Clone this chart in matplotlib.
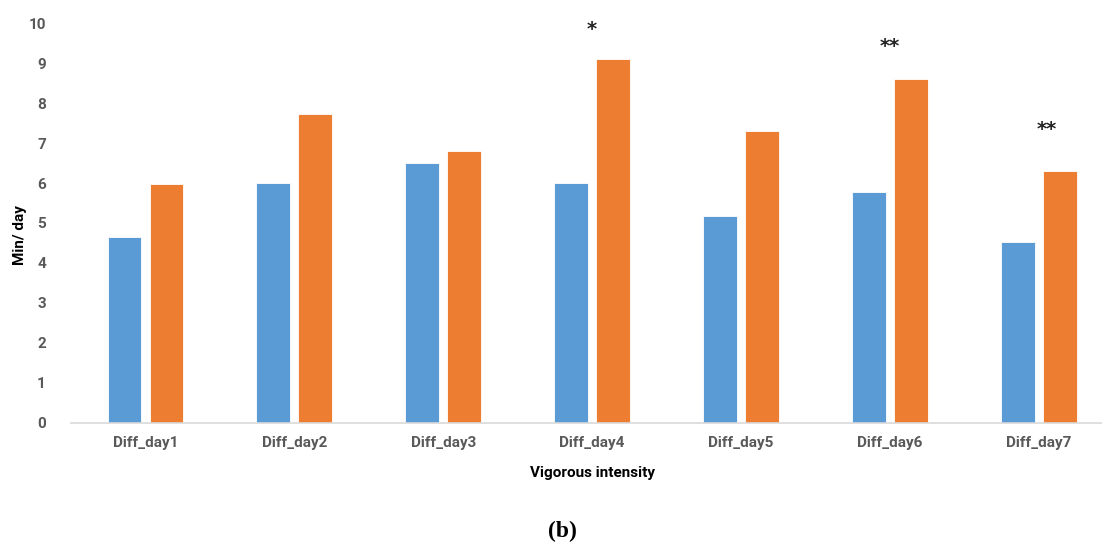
import numpy as np
import matplotlib.pyplot as plt

days = ['Diff_day1', 'Diff_day2', 'Diff_day3', 'Diff_day4', 'Diff_day5', 'Diff_day6', 'Diff_day7']
blue_vals = [4.65, 6.0, 6.51, 6.01, 5.18, 5.77, 4.52]
orange_vals = [5.98, 7.74, 6.80, 9.10, 7.30, 8.60, 6.30]

# significance marks: (category index, label, y value)
sig_x = [3, 5, 6.05]
sig_labels = ['*', '**', '**']
sig_y = [9.84, 9.42, 7.35]

blue = '#5B9BD5'
orange = '#ED7D31'

fig = plt.figure(figsize=(11.02, 5.46), dpi=100)
# axes run a little past the right edge, as in the cropped original
ax = fig.add_axes([70.8 / 1102, 123.5 / 546, (1113.5 - 70.8) / 1102, 399 / 546])

x = np.arange(len(days))
w = 0.225
off = 0.141
ax.bar(x - off, blue_vals, w, color=blue, edgecolor='white', linewidth=0.6)
ax.bar(x + off, orange_vals, w, color=orange, edgecolor='white', linewidth=0.6)

for sx, lab, sy in zip(sig_x, sig_labels, sig_y):
    ax.text(sx, sy, lab, ha='center', va='center', fontsize=14, color='#222222',
            family='DejaVu Sans', fontweight='bold')

ax.set_xlim(-0.5, 6.5)
ax.set_ylim(0, 10)
ax.set_yticks(range(0, 11))
ax.set_xticks(x)
ax.set_xticklabels(days)

for s in ['top', 'right', 'left']:
    ax.spines[s].set_visible(False)
ax.spines['bottom'].set_color('#D9D9D9')
ax.spines['bottom'].set_linewidth(1.2)
ax.tick_params(axis='both', length=0, labelcolor='#595959', labelsize=11)
ax.tick_params(axis='x', pad=10)
ax.tick_params(axis='y', pad=18)
for t in ax.get_xticklabels() + ax.get_yticklabels():
    t.set_fontfamily('Roboto')
    t.set_fontweight('bold')

fig.text(20 / 1102, 1 - 235 / 546, 'Min/ day', rotation=90, ha='center', va='center',
         fontsize=11, fontweight='bold', family='Roboto', color='black')
fig.text(593 / 1102, 1 - 473 / 546, 'Vigorous intensity', ha='center', va='center',
         fontsize=11, fontweight='bold', family='Roboto', color='black')
fig.text(562 / 1102, 1 - 531 / 546, '(b)', ha='center', va='center',
         fontsize=17, fontweight='bold', family='Liberation Serif', color='black')

fig.savefig('out.png', dpi=100)
